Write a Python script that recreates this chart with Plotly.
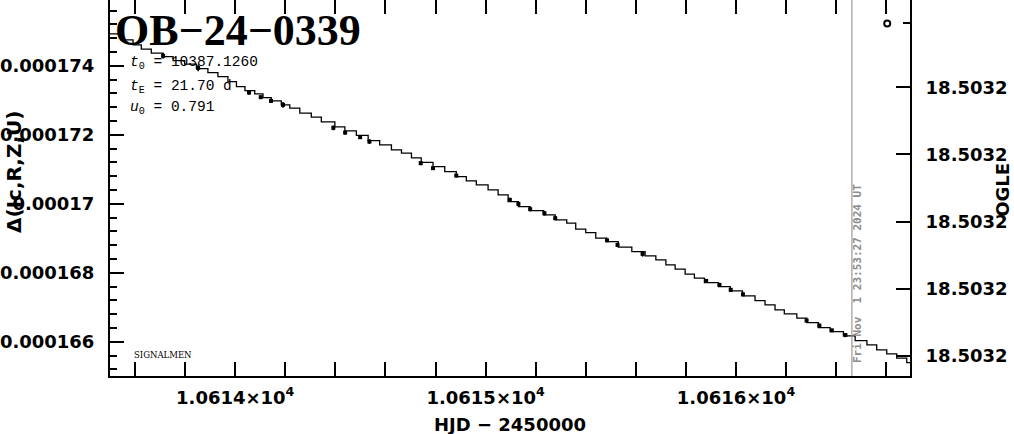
import plotly.graph_objects as go

# ---- data ----
# model staircase: step start times (HJD-2450000) and levels (units of 1e-6)
model_t = [10613.492, 10613.552, 10613.592, 10613.625, 10613.665, 10613.712, 10613.752,
           10613.798, 10613.845, 10613.891, 10613.931, 10613.971, 10614.005, 10614.039,
           10614.078, 10614.111, 10614.144, 10614.184, 10614.218, 10614.258, 10614.304,
           10614.344, 10614.398, 10614.438, 10614.484, 10614.531, 10614.577, 10614.624,
           10614.664, 10614.704, 10614.743, 10614.790, 10614.837, 10614.883, 10614.923,
           10614.963, 10615.010, 10615.050, 10615.090, 10615.131, 10615.178, 10615.231,
           10615.278, 10615.324, 10615.360, 10615.400, 10615.440, 10615.484, 10615.530,
           10615.584, 10615.637, 10615.680, 10615.720, 10615.757, 10615.797, 10615.834,
           10615.874, 10615.930, 10615.977, 10616.026, 10616.076, 10616.116, 10616.156,
           10616.193, 10616.243, 10616.283, 10616.329, 10616.376, 10616.429, 10616.476,
           10616.523, 10616.562, 10616.602, 10616.642, 10616.682, 10616.704]
model_v = [174.928, 174.754, 174.609, 174.484, 174.368, 174.270, 174.154,
           174.049, 173.922, 173.806, 173.690, 173.545, 173.400, 173.284,
           173.188, 173.081, 172.985, 172.870, 172.774, 172.629, 172.513,
           172.377, 172.232, 172.116, 171.985, 171.835, 171.710, 171.565,
           171.469, 171.333, 171.203, 171.081, 170.936, 170.791, 170.667,
           170.551, 170.406, 170.261, 170.067, 169.922, 169.806, 169.681,
           169.536, 169.440, 169.267, 169.168, 169.006, 168.907, 168.745,
           168.617, 168.493, 168.377, 168.232, 168.107, 167.962, 167.846,
           167.719, 167.603, 167.478, 167.333, 167.197, 167.072, 166.927,
           166.811, 166.687, 166.559, 166.414, 166.298, 166.174, 166.038,
           165.913, 165.768, 165.652, 165.527, 165.400, 165.400]

# observed points (HJD-2450000, delta in 1e-6, error in 1e-6)
obs_t = [10613.712, 10613.852, 10614.055, 10614.102, 10614.143, 10614.191, 10614.392,
         10614.439, 10614.499, 10614.536, 10614.741, 10614.790, 10614.883, 10615.097,
         10615.131, 10615.178, 10615.235, 10615.278, 10615.485, 10615.527, 10615.627,
         10615.881, 10615.934, 10615.979, 10616.028, 10616.282, 10616.333, 10616.383,
         10616.437]
obs_v = [174.290, 173.942, 173.226, 173.093, 172.985, 172.870, 172.203,
         172.067, 171.933, 171.806, 171.180, 171.035, 170.820, 170.116,
         170.000, 169.846, 169.730, 169.585, 168.942, 168.811, 168.551,
         167.768, 167.652, 167.507, 167.377, 166.617, 166.473, 166.333,
         166.197]
obs_err = [0.08, 0.10, 0.06, 0.05, 0.06, 0.08, 0.07,
           0.06, 0.05, 0.07, 0.06, 0.05, 0.05, 0.06,
           0.05, 0.06, 0.07, 0.05, 0.05, 0.06, 0.08,
           0.05, 0.05, 0.06, 0.05, 0.05, 0.05, 0.05,
           0.06]

ogle_t = [10616.604]
ogle_mag = [18.503141]

now_t = 10616.463

x_tickvals = [10614, 10615, 10616]
x_ticktext = ["1.0614×10<sup>4</sup>", "1.0615×10<sup>4</sup>", "1.0616×10<sup>4</sup>"]
y_tickvals = [0.000166, 0.000168, 0.000170, 0.000172, 0.000174]
y_ticktext = ["0.000166", "0.000168", "0.00017", "0.000172", "0.000174"]
y2_tickvals = [18.50316, 18.50318, 18.50320, 18.50322, 18.50324]
y2_ticktext = ["18.5032"] * 5

# ---- figure ----
fig = go.Figure()
fig.add_trace(go.Scatter(x=model_t, y=[v * 1e-6 for v in model_v], mode="lines",
                         line=dict(shape="hv", color="black", width=1.3),
                         hoverinfo="skip"))
fig.add_trace(go.Scatter(x=obs_t, y=[v * 1e-6 for v in obs_v], mode="markers",
                         marker=dict(symbol="square", size=4, color="black"),
                         error_y=dict(type="data", array=[e * 1e-6 for e in obs_err],
                                      thickness=1.5, width=0, color="black")))
fig.add_trace(go.Scatter(x=ogle_t, y=ogle_mag, yaxis="y2", mode="markers",
                         marker=dict(symbol="circle-open", size=6, color="black",
                                     line=dict(width=2, color="black"))))

tickfont = dict(family="DejaVu Sans", size=18, color="black", weight="bold")

fig.update_layout(
    width=1014, height=434,
    margin=dict(l=110, r=104, t=0, b=58, autoexpand=False),
    paper_bgcolor="white", plot_bgcolor="white",
    showlegend=False,
    xaxis=dict(range=[10613.5, 10616.695], showgrid=False, zeroline=False, automargin=False,
               showline=True, linecolor="black", linewidth=2, mirror="allticks",
               ticks="inside", ticklen=14, tickwidth=2, tickcolor="black",
               tickmode="array", tickvals=x_tickvals, ticktext=x_ticktext,
               tickfont=tickfont, ticklabelstandoff=4,
               minor=dict(ticks="inside", ticklen=7, tickwidth=2, tickcolor="black",
                          tickmode="linear", tick0=10614, dtick=0.2, showgrid=False)),
    yaxis=dict(range=[0.00016501, 0.00017591], showgrid=False, zeroline=False, automargin=False,
               showline=True, linecolor="black", linewidth=2,
               ticks="inside", ticklen=14, tickwidth=2, tickcolor="black",
               tickmode="array", tickvals=y_tickvals, ticktext=y_ticktext,
               tickfont=tickfont, ticklabelstandoff=10,
               minor=dict(ticks="inside", ticklen=7, tickwidth=2, tickcolor="black",
                          tickmode="linear", tick0=0.000166, dtick=0.0000004, showgrid=False)),
    yaxis2=dict(overlaying="y", side="right", anchor="x", automargin=False,
                range=[18.503246, 18.503134], showgrid=False, zeroline=False,
                showline=True, linecolor="black", linewidth=2,
                ticks="inside", ticklen=14, tickwidth=2, tickcolor="black",
                tickmode="array", tickvals=y2_tickvals, ticktext=y2_ticktext,
                tickfont=tickfont, ticklabelstandoff=10),
)

# vertical "now" line
fig.add_shape(type="line", xref="x", yref="paper", x0=now_t, x1=now_t, y0=0, y1=1,
              line=dict(color="#9a9a9a", width=1.2))
# small tick on right frame near OGLE point
fig.add_shape(type="line", xref="paper", yref="paper", x0=0.99125, x1=1.0,
              y0=0.9388, y1=0.9388, line=dict(color="black", width=2))

ann = []
ann.append(dict(text="OB−24−0339", x=0.004, y=0.92, xref="paper", yref="paper",
                xanchor="left", yanchor="middle", showarrow=False,
                font=dict(family="Liberation Serif", size=44, color="black", weight="bold")))
pfont = dict(family="Liberation Mono", size=14.5, color="black")
ann.append(dict(text="<i>t</i><sub>0</sub> = 10387.1260", x=0.0225, y=0.8324, xref="paper",
                yref="paper", xanchor="left", yanchor="middle", showarrow=False, font=pfont))
ann.append(dict(text="<i>t</i><sub>E</sub> = 21.70 d", x=0.0225, y=0.7686, xref="paper",
                yref="paper", xanchor="left", yanchor="middle", showarrow=False, font=pfont))
ann.append(dict(text="<i>u</i><sub>0</sub> = 0.791", x=0.0225, y=0.7128, xref="paper",
                yref="paper", xanchor="left", yanchor="middle", showarrow=False, font=pfont))
ann.append(dict(text="SIGNALMEN", x=0.028, y=0.0559, xref="paper", yref="paper",
                xanchor="left", yanchor="middle", showarrow=False,
                font=dict(family="DejaVu Serif", size=8.5, color="black")))
ann.append(dict(text="Fri Nov  1 23:53:27 2024 UT", x=0.9344, y=0.2726, xref="paper",
                yref="paper", xanchor="center", yanchor="middle", textangle=-90,
                showarrow=False,
                font=dict(family="DejaVu Sans Mono", size=11, color="#8c8c8c", weight="bold")))
tfont = dict(family="DejaVu Sans", size=18, color="black", weight="bold")
ann.append(dict(text="HJD − 2450000", x=0.5, y=-0.13, xref="paper", yref="paper",
                xanchor="center", yanchor="middle", showarrow=False, font=tfont))
ann.append(dict(text="Δ(Ic,R,Z,U)", x=-0.12, y=0.5426, xref="paper", yref="paper",
                xanchor="center", yanchor="middle", textangle=-90, showarrow=False,
                font=dict(family="DejaVu Sans", size=20, color="black", weight="bold")))
ann.append(dict(text="OGLE", x=1.116, y=0.4947, xref="paper", yref="paper",
                xanchor="center", yanchor="middle", textangle=-90, showarrow=False,
                font=tfont))
fig.update_layout(annotations=ann)

fig.write_html("out.html", config={"displayModeBar": False},
               post_script="document.body.style.margin='0px';document.body.style.overflow='hidden';")
